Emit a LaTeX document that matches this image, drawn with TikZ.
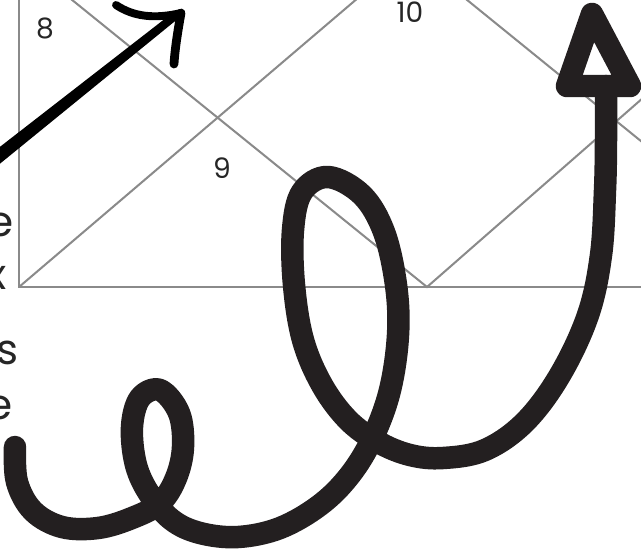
\documentclass[tikz,border=0pt]{standalone}
\usepackage{fontspec}
\setmainfont{Poppins}
\definecolor{chartgray}{RGB}{138,138,138}
\definecolor{inkblack}{RGB}{35,31,32}
\tikzset{
  chartline/.style={draw=chartgray, line width=1.15pt},
  housenum/.style={font=\fontsize{16}{19}\selectfont, text=black!85, inner sep=0pt},
  sidetext/.style={font=\fontsize{24}{28}\selectfont, text=black!85, inner sep=0pt, anchor=base east},
  curl/.style={draw=inkblack, line width=12.8pt, line cap=round, line join=round},
  penstroke/.style={draw=black, line cap=round, line join=round},
}
\begin{document}
\begin{tikzpicture}[x=0.02cm, y=-0.02cm]
  \useasboundingbox (0,0) rectangle (641,548);
  \clip (0,0) rectangle (641,548);
  % chart: left edge, bottom edge, diagonals and diamond
  \coordinate (bl) at (19,287);
  \coordinate (bm) at (427,287);
  \draw[chartline] (19,-20) -- (bl) -- (660,287);
  \draw[chartline] (bl) -- (372,-14);
  \draw[chartline] (19,-43) -- (bm) -- (700,48);
  \draw[chartline] (440,-22) -- (700,189);
  % house numbers
  \node[housenum] (h8) at (45,28) {8};
  \node[housenum] (h10) at (410,12) {10};
  \node[housenum] (h9) at (222,168) {9};
  % word endings cut by the left edge
  \node[sidetext] (w1) at (14,236) {e};
  \node[sidetext] (w2) at (7,289) {x};
  \node[sidetext] (w3) at (19,364) {s};
  \node[sidetext] (w4) at (13,419) {e};
  % straight pen arrow, top left
  \fill[black] (-34.4,173.5) -- (172.5,12.9) -- (177.5,19.1) -- (-25.6,184.5) -- cycle;
  \draw[penstroke, line width=4.5pt] (116,5) .. controls (134,17) and (155,19) .. (181,13);
  \draw[penstroke, line width=5pt] (181,13) .. controls (178,30) and (175,48) .. (174,64);
  % curly arrow
  \draw[curl] plot[smooth, tension=0.6] coordinates {
    (15,447) (17,482) (33,511) (62,527) (98,528) (132,518) (160,503)
    (176,478) (183,447) (179,413) (160,390) (140,398) (132,427) (136,465)
    (150,495) (172,520) (200,533) (238,537) (280,528) (320,505) (350,475)
    (373,437) (390,390) (398,335) (396,285) (384,232) (362,195) (328,177)
    (302,192) (293,230) (294,285) (303,340) (322,385) (348,420) (378,442)
    (410,455) (443,458) (485,450) (525,422) (560,375) (588,315) (601,255)
    (605,190) (606,140) (606,86)};
  \draw[curl] (592,14) -- (630,86) -- (567,86) -- cycle;
\end{tikzpicture}
\end{document}
